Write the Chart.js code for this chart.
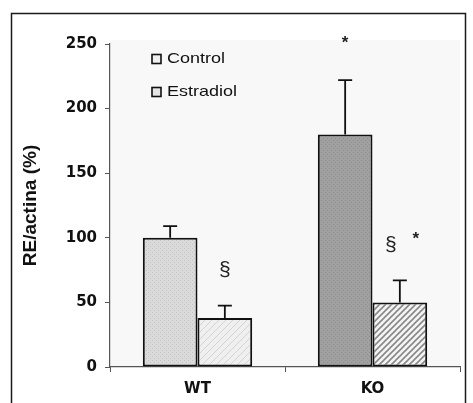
<!DOCTYPE html>
<html>
<head>
<meta charset="utf-8">
<script src="https://cdn.jsdelivr.net/npm/chart.js@4.4.1/dist/chart.umd.min.js"></script>
<style>
  html, body { margin: 0; padding: 0; background: #ffffff; }
  #wrap { width: 473px; height: 403px; position: relative; }
</style>
</head>
<body>
<div id="wrap"><canvas id="c" width="473" height="403"></canvas></div>
<script>
// ---- data ----
const categories = ['WT', 'KO'];
const seriesNames = ['Control', 'Estradiol'];
const controlValues = [100, 180];
const controlErrors = [9, 42];
const estradiolValues = [38, 50];
const estradiolErrors = [9.5, 17];
const yTicks = [0, 50, 100, 150, 200, 250];
// significance marks: [datasetIndex, categoryIndex, value position, text, x shift]
const marks = [
  [1, 0, 75, '§', 0],
  [0, 1, 253, '*', 0],
  [1, 1, 94, '§', -9],
  [1, 1, 101, '*', 16]
];

// ---- patterns ----
function makePattern(size, draw) {
  const c = document.createElement('canvas');
  c.width = size; c.height = size;
  const g = c.getContext('2d');
  draw(g, size);
  return g.createPattern(c, 'repeat');
}
const lightStipple = makePattern(4, (g, s) => {
  g.fillStyle = '#dadada'; g.fillRect(0, 0, s, s);
  g.fillStyle = '#c4c4c4'; g.fillRect(0, 0, 1, 1); g.fillRect(2, 2, 1, 1);
});
const darkStipple = makePattern(4, (g, s) => {
  g.fillStyle = '#a0a0a0'; g.fillRect(0, 0, s, s);
  g.fillStyle = '#8e8e8e'; g.fillRect(1, 0, 1, 1); g.fillRect(3, 2, 1, 1);
});
const faintHatch = makePattern(7, (g, s) => {
  g.fillStyle = '#efefef'; g.fillRect(0, 0, s, s);
  g.strokeStyle = '#d4d4d4'; g.lineWidth = 1;
  g.beginPath();
  g.moveTo(0, s); g.lineTo(s, 0);
  g.moveTo(-1, 1); g.lineTo(1, -1);
  g.moveTo(s - 1, s + 1); g.lineTo(s + 1, s - 1);
  g.stroke();
});
const darkHatch = makePattern(6, (g, s) => {
  g.fillStyle = '#f4f4f4'; g.fillRect(0, 0, s, s);
  g.strokeStyle = '#888888'; g.lineWidth = 1.6;
  g.beginPath();
  g.moveTo(0, s); g.lineTo(s, 0);
  g.moveTo(-1, 1); g.lineTo(1, -1);
  g.moveTo(s - 1, s + 1); g.lineTo(s + 1, s - 1);
  g.stroke();
});

const errors = [controlErrors, estradiolErrors];

const bgPlugin = {
  id: 'bg',
  beforeDraw(chart) {
    const { ctx, chartArea: a } = chart;
    ctx.save();
    ctx.fillStyle = '#f8f8f8';
    ctx.fillRect(a.left, a.top - 4, a.right - a.left, a.bottom - a.top + 4);
    ctx.restore();
  },
  afterDraw(chart) {
    const { ctx } = chart;
    ctx.save();
    ctx.strokeStyle = '#1a1a1a';
    ctx.lineWidth = 1.5;
    ctx.beginPath();
    ctx.moveTo(11.5, 410); ctx.lineTo(11.5, 13.5); ctx.lineTo(465.5, 13.5); ctx.lineTo(465.5, 410);
    ctx.stroke();
    ctx.restore();
  }
};

const errorPlugin = {
  id: 'errs',
  afterDatasetsDraw(chart) {
    const { ctx } = chart;
    const y = chart.scales.y;
    ctx.save();
    ctx.strokeStyle = '#111';
    ctx.lineWidth = 1.8;
    chart.data.datasets.forEach((ds, di) => {
      const meta = chart.getDatasetMeta(di);
      meta.data.forEach((el, i) => {
        const top = y.getPixelForValue(ds.data[i] + errors[di][i]);
        ctx.beginPath();
        ctx.moveTo(el.x, el.y);
        ctx.lineTo(el.x, top);
        ctx.moveTo(el.x - 7, top);
        ctx.lineTo(el.x + 7, top);
        ctx.stroke();
      });
    });
    // significance marks
    ctx.fillStyle = '#222';
    ctx.textAlign = 'center';
    ctx.textBaseline = 'middle';
    marks.forEach(([di, i, v, t, dx]) => {
      const el = chart.getDatasetMeta(di).data[i];
      ctx.font = t === '*' ? 'bold 17px "Liberation Sans", Arial, sans-serif' : '21px "Liberation Sans", Arial, sans-serif';
      ctx.fillText(t, el.x + dx, y.getPixelForValue(v) + (t === '*' ? 3 : 0));
    });
    ctx.restore();
  }
};

const legendPlugin = {
  id: 'customLegend',
  afterDraw(chart) {
    const { ctx, chartArea: a } = chart;
    const fills = ['#f0f0f0', '#e4e4e4'];
    ctx.save();
    ctx.font = '15px "Liberation Sans", Arial, sans-serif';
    ctx.textBaseline = 'middle';
    ctx.textAlign = 'left';
    seriesNames.forEach((name, k) => {
      const x = a.left + 42, yc = a.top + 15 + k * 33;
      ctx.fillStyle = fills[k];
      ctx.fillRect(x, yc - 4.5, 9, 9);
      ctx.strokeStyle = '#111';
      ctx.lineWidth = 1.6;
      ctx.strokeRect(x, yc - 4.5, 9, 9);
      ctx.fillStyle = '#111';
      ctx.save();
      ctx.translate(x + 15, yc);
      ctx.scale(1.2, 1);
      ctx.fillText(name, 0, 0);
      ctx.restore();
    });
    ctx.restore();
  }
};

new Chart(document.getElementById('c'), {
  type: 'bar',
  data: {
    labels: categories,
    datasets: [
      {
        label: seriesNames[0],
        data: controlValues,
        backgroundColor: [lightStipple, darkStipple],
        borderColor: '#111',
        borderWidth: 2,
        borderSkipped: false
      },
      {
        label: seriesNames[1],
        data: estradiolValues,
        backgroundColor: [faintHatch, darkHatch],
        borderColor: '#111',
        borderWidth: 2,
        borderSkipped: false
      }
    ]
  },
  options: {
    responsive: false,
    animation: false,
    events: [],
    layout: { padding: { left: 0, top: 44, right: 13, bottom: 0 } },
    datasets: { bar: { categoryPercentage: 0.625, barPercentage: 1.0 } },
    plugins: { legend: { display: false }, tooltip: { enabled: false } },
    scales: {
      x: {
        afterFit(s) { s.height = 36; },
        grid: { display: true, drawOnChartArea: false, drawTicks: true, tickLength: 5, color: '#555', offset: true },
        border: { display: true, color: '#555', width: 1.2 },
        ticks: {
          color: '#111',
          padding: 8,
          font: { family: '"DejaVu Sans", sans-serif', size: 15, weight: 'bold' }
        }
      },
      y: {
        min: 0,
        max: 250,
        afterFit(s) { s.width = 110; },
        afterBuildTicks(s) { s.ticks = yTicks.map(v => ({ value: v })); },
        grid: { display: true, drawOnChartArea: false, drawTicks: true, tickLength: 5, color: '#555' },
        border: { display: true, color: '#555', width: 1.2 },
        ticks: {
          color: '#111',
          padding: 8,
          font: { family: '"DejaVu Sans", sans-serif', size: 15, weight: 'bold' }
        }
        ,
        title: {
          display: true,
          text: 'RE/actina (%)',
          color: '#111',
          padding: { top: 19, bottom: 0 },
          font: { family: '"Liberation Sans", Arial, sans-serif', size: 19, weight: 'bold' }
        }
      }
    }
  },
  plugins: [bgPlugin, errorPlugin, legendPlugin]
});
</script>
</body>
</html>
